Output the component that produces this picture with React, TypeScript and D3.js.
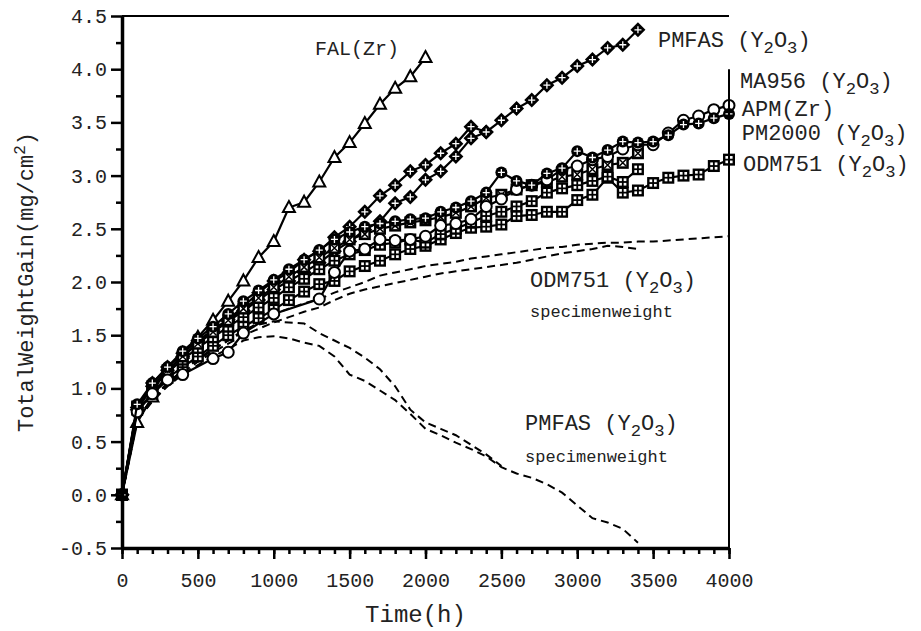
import React, { useEffect, useRef } from "react";
import * as d3 from "d3";

// exposure times (h), shared by every series; a series uses the first N entries
const HOURS = [
  0, 100, 200, 300, 400, 500, 600, 700, 800, 900, 1000, 1100, 1200, 1300, 1400,
  1500, 1600, 1700, 1800, 1900, 2000, 2100, 2200, 2300, 2400, 2500, 2600, 2700,
  2800, 2900, 3000, 3100, 3200, 3300, 3400, 3500, 3600, 3700, 3800, 3900, 4000,
];

// total weight gain (mg/cm2)
const falZr = [0, 0.68, 0.92, 1.14, 1.33, 1.48, 1.64, 1.82, 2.01, 2.23, 2.38, 2.7, 2.75, 2.94, 3.17, 3.31, 3.49, 3.67, 3.82, 3.93, 4.11];
const pmfasA = [0, 0.82, 1.05, 1.2, 1.33, 1.45, 1.55, 1.65, 1.77, 1.9, 2.01, 2.09, 2.21, 2.29, 2.42, 2.52, 2.66, 2.81, 2.91, 3.04, 3.1, 3.21, 3.3, 3.46, 3.41];
const pmfasB = [0, 0.8, 1.02, 1.17, 1.3, 1.43, 1.53, 1.63, 1.73, 1.83, 1.93, 2.01, 2.09, 2.18, 2.29, 2.38, 2.49, 2.57, 2.74, 2.8, 2.96, 3.04, 3.18, 3.35, 3.41, 3.52, 3.63, 3.71, 3.85, 3.92, 4.03, 4.09, 4.2, 4.23, 4.37];
const ma956 = [0, 0.85, 1.05, 1.2, 1.35, 1.47, 1.58, 1.7, 1.82, 1.92, 2.02, 2.12, 2.21, 2.3, 2.4, 2.47, 2.52, 2.55, 2.57, 2.59, 2.6, 2.66, 2.7, 2.76, 2.84, 3.03, 2.95, 2.91, 3.02, 3.07, 3.23, 3.17, 3.24, 3.32, 3.31, 3.32, 3.38, 3.48, 3.49, 3.54, 3.58];
const apmZr = [0, 0.78, 0.95, 1.08, 1.13, null, 1.28, 1.34, 1.52, null, 1.7, null, null, 1.84, 2.09, 2.29, 2.31, 2.4, 2.39, 2.4, 2.43, 2.53, 2.55, 2.59, 2.71, 2.78, 2.87, 2.91, 2.96, 3.06, 3.09, 3.15, 3.18, 3.25, 3.29, 3.29, 3.4, 3.52, 3.56, 3.62, 3.66];
const pm2000 = [0, 0.83, 1.02, 1.17, 1.3, 1.42, 1.53, 1.64, 1.75, 1.85, 1.95, 2.05, 2.14, 2.23, 2.32, 2.4, 2.45, 2.5, 2.53, 2.56, 2.58, 2.61, 2.65, 2.71, 2.79, 2.82, 2.87, 2.91, 2.94, 2.99, 3.01, 3.06, 3.1, 3.12, 3.21];
const odm751A = [0, 0.8, 0.95, 1.1, 1.2, 1.3, 1.4, 1.5, 1.58, 1.66, 1.74, 1.83, 1.91, 1.98, 2.01, 2.1, 2.15, 2.2, 2.26, 2.31, 2.34, 2.4, 2.46, 2.51, 2.52, 2.54, 2.62, 2.63, 2.66, 2.66, 2.77, 2.82, 2.98, 2.84, 2.86, 2.93, 2.98, 3.0, 3.01, 3.09, 3.15];
const odm751B = [0, 0.82, 1.0, 1.15, 1.27, 1.38, 1.48, 1.58, 1.67, 1.76, 1.85, 1.95, 2.03, 2.12, 2.2, 2.26, 2.3, 2.35, 2.37, 2.4, 2.37, 2.45, 2.5, 2.56, 2.62, 2.66, 2.71, 2.76, 2.84, 2.88, 2.91, 2.95, 2.99, 2.94, 3.06];

// specimen weight change (dashed)
const odmSpecA = [0, 0.72, 0.9, 1.05, 1.17, 1.27, 1.36, 1.45, 1.53, 1.62, 1.7, 1.75, 1.8, 1.84, 1.9, 1.95, 2.0, 2.06, 2.09, 2.12, 2.15, 2.17, 2.19, 2.22, 2.24, 2.26, 2.28, 2.3, 2.32, 2.33, 2.35, 2.36, 2.37, 2.37, 2.38, 2.38, 2.39, 2.4, 2.41, 2.42, 2.43];
const odmSpecB = [0, 0.7, 0.88, 1.03, 1.15, 1.25, 1.34, 1.42, 1.5, 1.56, 1.62, 1.67, 1.72, 1.76, 1.83, 1.89, 1.93, 1.96, 1.99, 2.02, 2.05, 2.08, 2.1, 2.12, 2.14, 2.16, 2.18, 2.21, 2.24, 2.27, 2.29, 2.31, 2.34, 2.33, 2.31];
const pmfasSpecA = [0, 0.72, 0.9, 1.05, 1.17, 1.28, 1.37, 1.45, 1.55, 1.6, 1.63, 1.62, 1.61, 1.52, 1.45, 1.38, 1.29, 1.18, 1.02, 0.8, 0.68, 0.62, 0.56, 0.47, 0.38, 0.27];
const pmfasSpecB = [0, 0.7, 0.88, 1.02, 1.13, 1.22, 1.3, 1.37, 1.45, 1.48, 1.49, 1.47, 1.43, 1.4, 1.3, 1.13, 1.07, 0.98, 0.89, 0.76, 0.62, 0.56, 0.49, 0.43, 0.36, 0.26, 0.2, 0.16, 0.1, 0.02, -0.1, -0.22, -0.26, -0.32, -0.45];

const X_TICKS = [0, 500, 1000, 1500, 2000, 2500, 3000, 3500, 4000];
const Y_TICKS = [-0.5, 0, 0.5, 1, 1.5, 2, 2.5, 3, 3.5, 4, 4.5];

const SERIES = [
  { values: falZr, marker: "tri" },
  { values: pmfasA, marker: "diamond" },
  { values: pmfasB, marker: "diamond" },
  { values: odm751A, marker: "squarePlus" },
  { values: odm751B, marker: "squarePlus" },
  { values: pm2000, marker: "squareX" },
  { values: apmZr, marker: "circle" },
  { values: ma956, marker: "circlePlus" },
];
const DASHED = [odmSpecA, odmSpecB, pmfasSpecA, pmfasSpecB];

// text annotations, "_n" marks a subscript
const LABELS = [
  { text: "FAL(Zr)", t: 1272, v: 4.13, size: 20 },
  { text: "PMFAS (Y_2O_3)", t: 3532, v: 4.21, size: 22 },
  { text: "MA956 (Y_2O_3)", t: 4073, v: 3.82, size: 22 },
  { text: "APM(Zr)", t: 4084, v: 3.56, size: 22 },
  { text: "PM2000 (Y_2O_3)", t: 4084, v: 3.33, size: 22 },
  { text: "ODM751 (Y_2O_3)", t: 4092, v: 3.04, size: 22 },
  { text: "ODM751 (Y_2O_3)", t: 2689, v: 1.95, size: 22 },
  { text: "specimenweight", t: 2689, v: 1.67, size: 17 },
  { text: "PMFAS (Y_2O_3)", t: 2656, v: 0.61, size: 22 },
  { text: "specimenweight", t: 2656, v: 0.31, size: 17 },
];

const FONT = "'Courier New', 'Liberation Mono', monospace";

const drawMarker = (g, kind, cx, cy) => {
  if (kind === "tri") {
    g.append("path")
      .attr("d", `M${cx},${cy - 6.5}L${cx + 6},${cy + 4.5}L${cx - 6},${cy + 4.5}Z`)
      .attr("fill", "white").attr("stroke", "black").attr("stroke-width", 2);
  } else if (kind === "diamond") {
    g.append("path")
      .attr("d", `M${cx},${cy - 7.5}L${cx + 7.5},${cy}L${cx},${cy + 7.5}L${cx - 7.5},${cy}Z`)
      .attr("fill", "black");
    g.append("path")
      .attr("d", `M${cx - 3.5},${cy}H${cx + 3.5}M${cx},${cy - 3.5}V${cy + 3.5}`)
      .attr("stroke", "white").attr("stroke-width", 1.3);
  } else if (kind === "circlePlus") {
    g.append("circle").attr("cx", cx).attr("cy", cy).attr("r", 6).attr("fill", "black");
    g.append("path")
      .attr("d", `M${cx - 3.5},${cy}H${cx + 3.5}M${cx},${cy - 3.5}V${cy + 3.5}`)
      .attr("stroke", "white").attr("stroke-width", 1.3);
  } else if (kind === "circle") {
    g.append("circle").attr("cx", cx).attr("cy", cy).attr("r", 5.5)
      .attr("fill", "white").attr("stroke", "black").attr("stroke-width", 2);
  } else if (kind === "squareX") {
    g.append("rect").attr("x", cx - 6).attr("y", cy - 6).attr("width", 12).attr("height", 12).attr("fill", "black");
    g.append("rect").attr("x", cx - 3.5).attr("y", cy - 3.5).attr("width", 7).attr("height", 7).attr("fill", "white");
    g.append("path")
      .attr("d", `M${cx - 3.5},${cy - 3.5}L${cx + 3.5},${cy + 3.5}M${cx + 3.5},${cy - 3.5}L${cx - 3.5},${cy + 3.5}`)
      .attr("stroke", "black").attr("stroke-width", 1.5);
  } else if (kind === "squarePlus") {
    g.append("rect").attr("x", cx - 6).attr("y", cy - 6).attr("width", 12).attr("height", 12).attr("fill", "black");
    [[-1, -1], [1, -1], [-1, 1], [1, 1]].forEach(([sx, sy]) => {
      g.append("rect")
        .attr("x", cx + (sx < 0 ? -3.6 : 0.9)).attr("y", cy + (sy < 0 ? -3.6 : 0.9))
        .attr("width", 2.7).attr("height", 2.7).attr("fill", "white");
    });
  }
};

const addText = (sel, str, size) => {
  const parts = str.split(/_(\d)/);
  parts.forEach((p, i) => {
    if (!p) return;
    if (i % 2 === 1) {
      sel.append("tspan").attr("dy", 6).attr("font-size", size * 0.78).text(p);
    } else {
      const ts = sel.append("tspan").text(p);
      if (i > 0) ts.attr("dy", -6);
    }
  });
};

export default function App() {
  const svgRef = useRef(null);

  useEffect(() => {
    const svg = d3.select(svgRef.current);
    svg.selectAll("*").remove();

    const x = d3.scaleLinear().domain([0, 4000]).range([122, 729]);
    const y = d3.scaleLinear().domain([-0.5, 4.5]).range([548, 16]);

    const line = d3.line().x((d) => x(d[0])).y((d) => y(d[1]));
    const toPts = (vals) =>
      vals.map((v, i) => [HOURS[i], v]).filter((d) => d[1] !== null);

    // dashed specimen weight curves
    DASHED.forEach((vals) => {
      svg.append("path")
        .attr("d", line(toPts(vals)))
        .attr("fill", "none").attr("stroke", "black")
        .attr("stroke-width", 2).attr("stroke-dasharray", "8,5");
    });

    // total weight gain series
    SERIES.forEach((s) => {
      const pts = toPts(s.values);
      svg.append("path")
        .attr("d", line(pts))
        .attr("fill", "none").attr("stroke", "black").attr("stroke-width", 2.2);
      const g = svg.append("g");
      pts.forEach((d) => drawMarker(g, s.marker, x(d[0]), y(d[1])));
    });

    // frame lines (top and partial right)
    svg.append("line")
      .attr("x1", x(0)).attr("x2", x(4000)).attr("y1", y(4.5)).attr("y2", y(4.5))
      .attr("stroke", "black").attr("stroke-width", 2);
    svg.append("line")
      .attr("x1", x(4000)).attr("x2", x(4000)).attr("y1", y(4.0)).attr("y2", y(-0.5))
      .attr("stroke", "black").attr("stroke-width", 2);

    // axes
    const xMinor = svg.append("g").attr("transform", `translate(0,${y(-0.5)})`)
      .call(d3.axisBottom(x).tickValues(HOURS).tickSize(6).tickSizeOuter(0).tickFormat(() => ""));
    xMinor.select(".domain").remove();
    const yMinor = svg.append("g").attr("transform", `translate(${x(0)},0)`)
      .call(d3.axisLeft(y).tickValues(d3.range(-0.25, 4.5, 0.5)).tickSize(6).tickSizeOuter(0).tickFormat(() => ""));
    yMinor.select(".domain").remove();

    const xAxis = svg.append("g").attr("transform", `translate(0,${y(-0.5)})`)
      .call(d3.axisBottom(x).tickValues(X_TICKS).tickSize(11).tickSizeOuter(0).tickPadding(14)
        .tickFormat((d) => String(d)));
    const yAxis = svg.append("g").attr("transform", `translate(${x(0)},0)`)
      .call(d3.axisLeft(y).tickValues(Y_TICKS).tickSize(11).tickSizeOuter(0).tickPadding(4)
        .tickFormat((d) => d.toFixed(1)));

    [xAxis, yAxis, xMinor, yMinor].forEach((a) => {
      a.selectAll("line").attr("stroke-width", 2.5);
      a.selectAll("text").attr("font-family", FONT).attr("font-size", 20).attr("fill", "#222");
    });
    [xAxis, yAxis].forEach((a) => a.select(".domain").attr("stroke-width", 3.5));

    // axis titles
    svg.append("text")
      .attr("x", x(2000) - 10).attr("y", 622).attr("text-anchor", "middle")
      .attr("font-family", FONT).attr("font-size", 24).attr("fill", "#222")
      .text("Time(h)");

    const yt = svg.append("text")
      .attr("transform", `translate(33,${y(2)}) rotate(-90)`)
      .attr("text-anchor", "middle")
      .attr("font-family", FONT).attr("font-size", 22).attr("fill", "#222");
    yt.append("tspan").text("TotalWeightGain(mg/cm");
    yt.append("tspan").attr("dy", -8).attr("font-size", 16).text("2");
    yt.append("tspan").attr("dy", 8).text(")");

    // annotations
    LABELS.forEach((l) => {
      const t = svg.append("text")
        .attr("x", x(l.t)).attr("y", y(l.v))
        .attr("font-family", FONT).attr("font-size", l.size).attr("fill", "#222");
      addText(t, l.text, l.size);
    });
  }, []);

  return (
    <div style={{ position: "absolute", left: 0, top: 0 }}>
      <svg ref={svgRef} width={921} height={631} style={{ display: "block", background: "white" }} />
    </div>
  );
}
